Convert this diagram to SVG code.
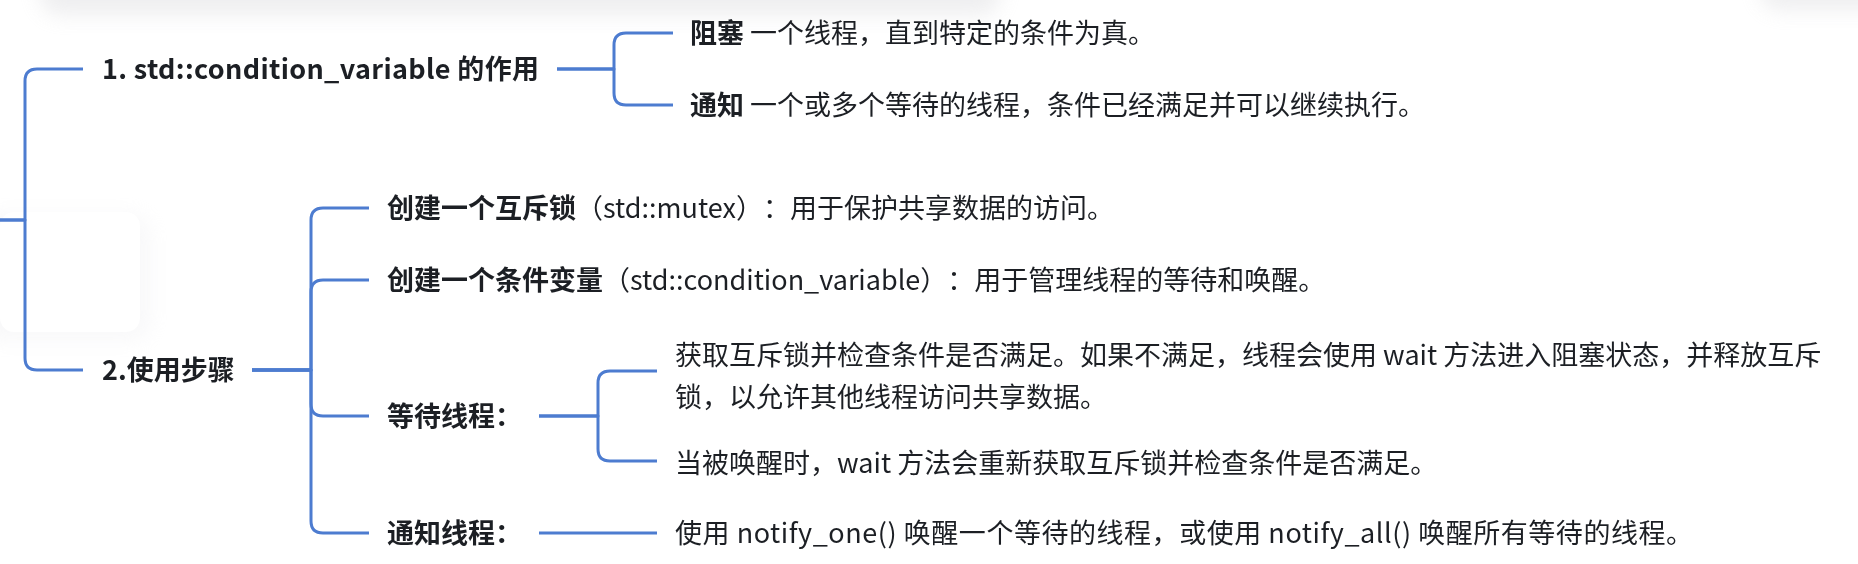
<svg xmlns="http://www.w3.org/2000/svg" width="1858" height="564" viewBox="0 0 1858 564">
<style>
.c{fill:none;stroke:#4d7cd0;stroke-width:3;stroke-linecap:butt;stroke-linejoin:round}
text{font-family:"Noto Sans CJK SC","Noto Sans",sans-serif;font-size:27px;fill:#1c1f24;text-spacing-trim:space-all}
.b{font-weight:700}
</style>
<defs>
<filter id="blur" x="-50%" y="-50%" width="200%" height="200%"><feGaussianBlur stdDeviation="10"/></filter>
</defs>
<rect width="1858" height="564" fill="#ffffff"/>
<g id="shadows" opacity="0.3">
<rect x="40" y="-40" width="960" height="55" rx="20" fill="#c8c8cc" filter="url(#blur)"/>
<rect x="1760" y="-40" width="140" height="50" rx="20" fill="#c8c8cc" filter="url(#blur)"/>
<rect x="-20" y="215" width="170" height="125" rx="16" fill="#e8e8ec" filter="url(#blur)"/>
</g>
<rect x="0" y="212" width="140" height="120" rx="14" fill="#ffffff" opacity="0.92"/>
<g id="connectors">
<path class="c" d="M0,220 H25 V81 Q25,69 37,69 H83"/>
<path class="c" d="M0,220 H25 V358 Q25,370 37,370 H83"/>
<path class="c" d="M557,69 H614 V45 Q614,33 626,33 H673"/>
<path class="c" d="M557,69 H614 V93 Q614,105 626,105 H673"/>
<path class="c" d="M252,370 H311 V220 Q311,208 323,208 H369"/>
<path class="c" d="M252,370 H311 V292 Q311,280 323,280 H369"/>
<path class="c" d="M252,370 H311 V404 Q311,416 323,416 H369"/>
<path class="c" d="M252,370 H311 V521 Q311,533 323,533 H369"/>
<path class="c" d="M539,416 H598 V383 Q598,371 610,371 H657"/>
<path class="c" d="M539,416 H598 V449 Q598,461 610,461 H657"/>
<path class="c" d="M539,533 H657"/>
</g>
<g id="n1"><text class="b" x="102" y="79" textLength="437" lengthAdjust="spacing">1. std::condition_variable 的作用</text></g>
<g id="n1a"><text x="690" y="43"><tspan class="b">阻塞</tspan> 一个线程，直到特定的条件为真。</text></g>
<g id="n1b"><text x="690" y="115"><tspan class="b">通知</tspan> 一个或多个等待的线程，条件已经满足并可以继续执行。</text></g>
<g id="n2"><text class="b" x="102" y="380">2.使用步骤</text></g>
<g id="n2a"><text x="387" y="218"><tspan class="b">创建一个互斥锁</tspan>（std::mutex）：用于保护共享数据的访问。</text></g>
<g id="n2b"><text x="387" y="290"><tspan class="b">创建一个条件变量</tspan>（std::condition_variable）：用于管理线程的等待和唤醒。</text></g>
<g id="n2c"><text class="b" x="387" y="426">等待线程：</text></g>
<g id="n2c1"><text x="675" y="365">获取互斥锁并检查条件是否满足。如果不满足，线程会使用 wait 方法进入阻塞状态，并释放互斥</text><text x="675" y="407">锁，以允许其他线程访问共享数据。</text></g>
<g id="n2c2"><text x="675" y="473">当被唤醒时，wait 方法会重新获取互斥锁并检查条件是否满足。</text></g>
<g id="n2d"><text class="b" x="387" y="543">通知线程：</text></g>
<g id="n2d1"><text x="675" y="543" textLength="1018" lengthAdjust="spacing">使用 notify_one() 唤醒一个等待的线程，或使用 notify_all() 唤醒所有等待的线程。</text></g>
</svg>
